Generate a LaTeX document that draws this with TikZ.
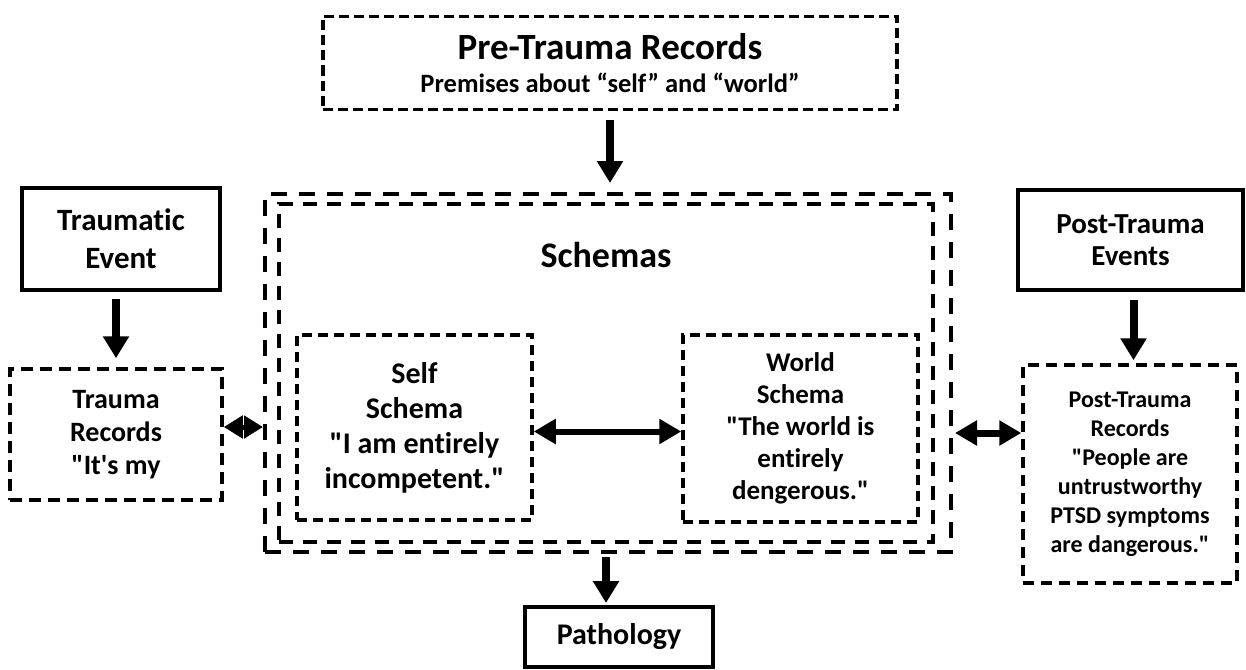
\documentclass[tikz,border=0pt]{standalone}
\usepackage{fontspec}
\setmainfont{Carlito}[Ligatures={NoCommon}]
\usetikzlibrary{positioning, arrows.meta}

\begin{document}
\begin{tikzpicture}[x=1pt, y=-1pt,
  box/.style={draw, line width=4pt, inner sep=0pt, align=center},
  record/.style={box, line width=3.5pt, dash pattern=on 11pt off 6pt},
  flow/.style={-{Triangle[length=22pt, width=25pt]}, line width=8pt},
  twoway/.style={{Triangle[length=22pt, width=24pt]}-{Triangle[length=22pt, width=24pt]},
    line width=6pt},
]
  \useasboundingbox (0,0) rectangle (1246,669);

  % Pre-trauma records at top
  \node[record, line width=3.5pt, dash pattern=on 10pt off 5pt,
    minimum width=574pt, minimum height=93pt,
    font=\fontsize{26.5}{33}\selectfont\bfseries] (pre) at (610,63)
    {{\fontsize{37}{44}\selectfont Pre-Trauma Records}\\
     Premises about “self” and “world”};

  % Schemas (double frame)
  \node[box, line width=4pt, dash pattern=on 16pt off 12pt,
    minimum width=686pt, minimum height=358pt] (outer) at (608,373) {};
  \node[box, line width=4pt, dash pattern=on 14pt off 10pt,
    minimum width=654pt, minimum height=338pt] (inner) at (606,373) {};
  \node[font=\fontsize{36}{40}\selectfont\bfseries, anchor=base] (schemas) at (606,267) {Schemas};

  \node[record, dash pattern=on 10pt off 6pt, minimum width=235pt, minimum height=185pt,
    font=\fontsize{30}{35}\selectfont\bfseries] (self) at (414.5,427.5)
    {Self\\Schema\\\textquotedbl I am entirely\\incompetent.\textquotedbl};
  \node[record, dash pattern=on 10pt off 6pt, minimum width=235pt, minimum height=187pt,
    font=\fontsize{27}{32}\selectfont\bfseries] (world) at (800.5,428.5)
    {World\\Schema\\\textquotedbl The world is\\entirely\\dengerous.\textquotedbl};

  % Left column
  \node[box, minimum width=198pt, minimum height=102pt,
    font=\fontsize{31}{38}\selectfont\bfseries] (event) at (121,239)
    {Traumatic\\Event};
  \node[record, dash pattern=on 12pt off 7pt, minimum width=212pt, minimum height=131pt,
    font=\fontsize{28}{33}\selectfont\bfseries] (trauma) at (116,434.5)
    {Trauma\\Records\\\textquotedbl It\textquotesingle s my};

  % Right column
  \node[box, minimum width=225pt, minimum height=100pt,
    font=\fontsize{29}{32}\selectfont\bfseries] (postev) at (1130.5,240)
    {Post-Trauma\\Events};
  \node[record, dash pattern=on 11pt off 7pt, minimum width=214pt, minimum height=218pt,
    font=\fontsize{24}{29}\selectfont\bfseries] (postrec) at (1130,474)
    {Post-Trauma\\Records\\\textquotedbl People are\\untrustworthy\\PTSD symptoms\\are dangerous.\textquotedbl};

  % Output
  \node[box, minimum width=188pt, minimum height=60pt,
    font=\fontsize{30}{36}\selectfont\bfseries] (patho) at (619,637) {Pathology};

  % Vertical arrows
  \draw[flow, shorten <=9pt, shorten >=9pt] (pre) -- (outer.north -| pre.south);
  \draw[flow, shorten <=7pt, shorten >=9pt] (event.south -| trauma.north) -- (trauma.north);
  \draw[flow, shorten <=8pt, shorten >=3pt] ([xshift=3pt]postev.south) -- ([xshift=3pt]postev.south |- postrec.north);
  \draw[flow, shorten <=3pt, shorten >=2pt] ([xshift=-2pt]outer.south) -- ([xshift=-2pt]outer.south |- patho.north);

  % Two-way links
  \draw[twoway] ([yshift=-4pt]self.east) -- ([yshift=-4pt]self.east -| world.west);
  \draw[{Triangle[length=19pt, width=22pt]}-{Triangle[length=19pt, width=22pt]}, line width=5pt]
    ([yshift=7.5pt]trauma.east) -- ([yshift=7.5pt]trauma.east -| outer.west);
  \draw[twoway, line width=7pt, shorten <=2pt] ([yshift=41pt]postrec.west -| outer.east) -- ([yshift=41pt]postrec.west);
\end{tikzpicture}
\end{document}
